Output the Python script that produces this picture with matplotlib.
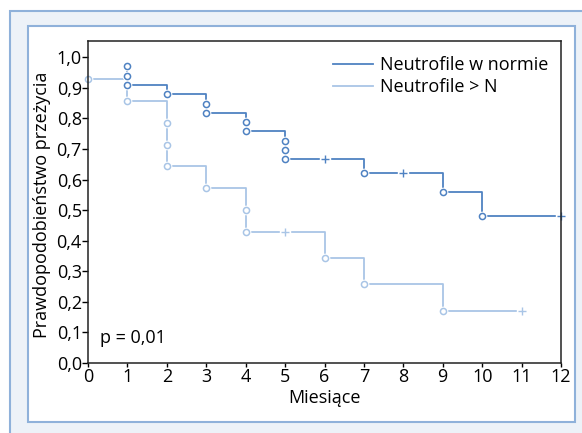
import numpy as np
import matplotlib
matplotlib.use("Agg")
import matplotlib.pyplot as plt
from matplotlib.patches import Rectangle

plt.rcParams['font.family'] = ['Open Sans', 'DejaVu Sans']

# data
norm_label = "Neutrofile w normie"
norm_event_t = [1, 1, 1, 2, 3, 3, 4, 4, 5, 5, 5, 7, 9, 10]
norm_event_s = [0.970, 0.939, 0.909, 0.879, 0.848, 0.818, 0.788, 0.758, 0.727, 0.697, 0.667, 0.62, 0.56, 0.48]
norm_cens_t = [6, 8, 12]
norm_cens_s = [0.667, 0.62, 0.48]

high_label = "Neutrofile > N"
high_event_t = [0, 1, 2, 2, 2, 3, 4, 4, 6, 7, 9]
high_event_s = [0.929, 0.857, 0.786, 0.714, 0.643, 0.571, 0.500, 0.429, 0.343, 0.257, 0.171]
high_cens_t = [5, 11]
high_cens_s = [0.429, 0.171]

x_ticks = list(range(0, 13))
y_ticks = [i / 10 for i in range(0, 11)]
y_ticklabels = [("%.1f" % v).replace(".", ",") for v in y_ticks]

dark = "#4f82c2"
light = "#a9c5e6"
frame_col = "#8fb1da"
bg_col = "#edf2f8"

W, H = 582, 433
FS = 13


def step_path(ev_t, ev_s, end_t):
    xs, ys = [ev_t[0]], [ev_s[0]]
    for t, s in zip(ev_t[1:], ev_s[1:]):
        if t != xs[-1]:
            xs.append(t)
            ys.append(ys[-1])
        xs.append(t)
        ys.append(s)
    xs.append(end_t)
    ys.append(ys[-1])
    return xs, ys


def draw_curve(ax, ev_t, ev_s, c_t, c_s, color, label):
    xs, ys = step_path(ev_t, ev_s, max(c_t))
    ax.plot(xs, ys, color=color, lw=1.3, label=label, zorder=2, clip_on=False)
    # white halo so the line breaks around marks
    ax.plot(ev_t, ev_s, ls='none', marker='o', ms=6.0, mfc='white', mec='white', zorder=3, clip_on=False)
    ax.plot(c_t, c_s, ls='none', marker='s', ms=6.5, mfc='white', mec='white', zorder=3, clip_on=False)
    ax.plot(ev_t, ev_s, ls='none', marker='o', ms=4.4, mfc='white', mec=color, mew=1.1, zorder=4, clip_on=False)
    ax.plot(c_t, c_s, ls='none', marker='+', ms=5.5, mec=color, mew=1.0, zorder=4, clip_on=False)


fig = plt.figure(figsize=(W / 100, H / 100), dpi=100)
fig.patch.set_facecolor('white')

outer = Rectangle((10 / W, -0.05), 1.1, 1 - 11 / H + 0.05, transform=fig.transFigure,
                  facecolor=bg_col, edgecolor=frame_col, lw=1.5, zorder=-2)
inner = Rectangle((28 / W, 1 - 422 / H), (575 - 28) / W, (422 - 26) / H, transform=fig.transFigure,
                  facecolor='white', edgecolor=frame_col, lw=1.5, zorder=-1)
fig.patches.extend([outer, inner])

ax = fig.add_axes([88 / W, 1 - 363 / H, (561 - 88) / W, (363 - 41) / H])
ax.set_facecolor('none')

draw_curve(ax, norm_event_t, norm_event_s, norm_cens_t, norm_cens_s, dark, norm_label)
draw_curve(ax, high_event_t, high_event_s, high_cens_t, high_cens_s, light, high_label)

ax.set_xlim(0, 12)
ax.set_ylim(0, 1.053)
ax.set_xticks(x_ticks)
ax.set_yticks(y_ticks)
ax.set_yticklabels(y_ticklabels)
ax.tick_params(axis='both', labelsize=FS, width=1, colors='black')
ax.tick_params(axis='x', length=3, pad=0.5)
ax.tick_params(axis='y', length=4, pad=0.5)
for sp in ax.spines.values():
    sp.set_linewidth(1.1)
    sp.set_color('#222222')
    sp.set_zorder(5)

ax.set_xlabel("Miesiące", fontsize=FS)
ax.xaxis.set_label_coords(0.5, -0.11)
ax.xaxis.label.set_va('center')
ax.set_ylabel("Prawdopodobieństwo przeżycia", fontsize=FS)
ax.yaxis.set_label_coords(-0.098, 0.49)
ax.yaxis.label.set_va('center')

ax.text(0.025, 0.078, "p = 0,01", transform=ax.transAxes, fontsize=FS, va='center', ha='left')

ax.legend(loc='upper left', bbox_to_anchor=(333 / W, 1 - 56 / H), bbox_transform=fig.transFigure,
          frameon=False, fontsize=FS, handlelength=2.2, handletextpad=0.4,
          labelspacing=0.22, borderpad=0, borderaxespad=0)

fig.savefig("out.png", dpi=100)
